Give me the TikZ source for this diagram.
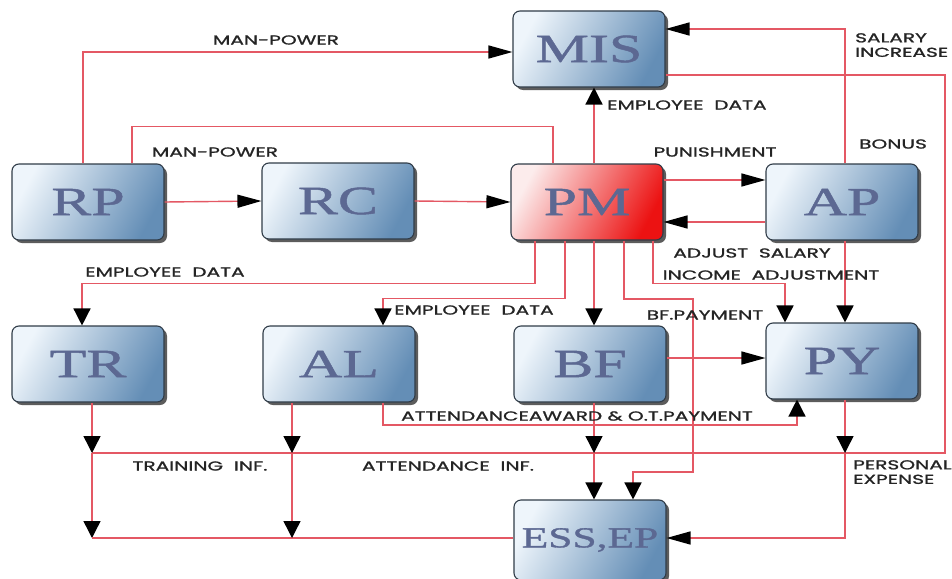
\documentclass[tikz,border=0pt]{standalone}
\usepackage{fontspec}
\usetikzlibrary{arrows.meta,shadows}
\newfontfamily\lblfont[FakeStretch=1.55,FakeBold=1.2]{Poppins}
\newfontfamily\boxfont[FakeStretch=1.5,FakeBold=1.2]{Liberation Serif}

\definecolor{flowred}{RGB}{228,88,100}
\definecolor{boxlight}{RGB}{238,245,251}
\definecolor{boxdark}{RGB}{100,142,182}
\definecolor{boxedge}{RGB}{48,60,72}
\definecolor{pmlight}{RGB}{252,236,236}
\definecolor{pmdark}{RGB}{236,18,18}
\definecolor{glyph}{RGB}{92,104,146}
\definecolor{lbltext}{RGB}{36,36,36}

\tikzset{
  box/.style={draw=boxedge, line width=1.1pt, rounded corners=7pt,
    minimum width=152pt, minimum height=76pt, inner sep=0pt,
    left color=boxlight, right color=boxdark, shading angle=62,
    drop shadow={shadow xshift=3pt, shadow yshift=-3pt, fill=black!75, opacity=0.85},
    text=glyph, font=\boxfont\fontsize{40}{40}\selectfont},
  pmbox/.style={box, left color=pmlight, right color=pmdark, shading angle=62},
  flow/.style={draw=flowred, line width=1.4pt},
  htip/.style={-{Triangle[length=24pt,width=13pt,color=black]}},
  vtip/.style={-{Triangle[length=17pt,width=17pt,color=black]}},
  lbl/.style={font=\lblfont\fontsize{13}{14.5}\selectfont, text=lbltext, inner sep=0pt, align=left}
}

\begin{document}
\begin{tikzpicture}[x=1pt,y=1pt]
\fill[white] (0,0) rectangle (952,-578);
\useasboundingbox (0,0) rectangle (952,-578);

% junction points on the information bus and the lower collector
\coordinate (busR) at (945,-453);
\coordinate (trA) at (92,-453);
\coordinate (trB) at (92,-538);
\coordinate (alA) at (292,-453);
\coordinate (alB) at (292,-538);
\coordinate (bfA) at (594,-453);
\coordinate (pyA) at (845,-453);
\coordinate (pyB) at (845,-538);
\coordinate (attC) at (797,-425);
\coordinate (bfp1) at (693,-299);
\coordinate (bfp2) at (693,-472);

% boxes
\node[box] (MIS) at (589,-49) {MIS};
\node[box] (RP) at (88,-202) {RP};
\node[box] (RC) at (338,-201) {RC};
\node[pmbox] (PM) at (587,-202) {PM};
\node[box] (AP) at (842,-202) {AP};
\node[box] (TR) at (88,-364) {TR};
\node[box] (AL) at (339,-364) {AL};
\node[box] (BF) at (590,-364) {BF};
\node[box] (PY) at (842,-361) {PY};
\node[box, minimum height=80pt, font=\boxfont\fontsize{29}{29}\selectfont] (ESS) at (590,-540) {ESS,EP};

% recruitment planning
\draw[flow,htip] ([xshift=-5pt]RP.north) |- ([yshift=-3pt]MIS.west);
\draw[flow] ([xshift=44pt]RP.north) -- ++(0,37) -| ([xshift=-34pt]PM.north);
\draw[flow,htip] (RP.east) -- (RC.west);
\draw[flow,htip] (RC.east) -- (PM.west);

% personnel management, appraisal and MIS
\draw[flow,vtip] ([xshift=7pt]PM.north) -- ([xshift=7pt]PM.north |- MIS.south);
\draw[flow,htip] ([yshift=22pt]PM.east) -- ([yshift=22pt]PM.east -| AP.west);
\draw[flow,htip] ([yshift=-20pt]AP.west) -- ([yshift=-20pt]AP.west -| PM.east);
\draw[flow,htip] ([xshift=3pt]AP.north) |- ([yshift=20pt]MIS.east);
\draw[flow] ([yshift=-26pt]MIS.east) -| (busR) -- (trA);

% from personnel management downwards
\draw[flow,vtip] ([xshift=-52pt]PM.south) -- ++(0,-43) -| ([xshift=-6pt]TR.north);
\draw[flow,vtip] ([xshift=-22pt]PM.south) -- ++(0,-58) -| ([xshift=44pt]AL.north);
\draw[flow,vtip] ([xshift=7pt]PM.south) -- ([xshift=4pt]BF.north);
\draw[flow,vtip] ([xshift=37pt]PM.south) |- (bfp1) -- (bfp2) -| ([xshift=43pt]ESS.north);
\draw[flow,vtip] ([xshift=66pt]PM.south) -- ++(0,-43) -| ([xshift=-57pt]PY.north);
\draw[flow,vtip] ([xshift=3pt]AP.south) -- ([xshift=3pt]PY.north);

% training
\draw[flow,vtip] ([xshift=4pt]TR.south) -- (trA);
\draw[flow,vtip] (trA) -- (trB);
\draw[flow] (trB) -- (trB -| ESS.west);
% attendance
\draw[flow,vtip] ([xshift=-47pt]AL.south) -- (alA);
\draw[flow,vtip] (alA) -- (alB);
\draw[flow,vtip] ([xshift=44pt]AL.south) |- (attC) -- (attC |- PY.south);
% benefits
\draw[flow,htip] ([yshift=6pt]BF.east) -- ([yshift=6pt]BF.east -| PY.west);
\draw[flow,vtip] ([xshift=4pt]BF.south) -- (bfA);
\draw[flow,vtip] (bfA) -- (bfA |- ESS.north);
% payroll
\draw[flow,vtip] ([xshift=3pt]PY.south) -- (pyA);
\draw[flow,htip] (pyA) -- (pyB) -- (pyB -| ESS.east);

% labels
\node[lbl] (l1) at (276,-40) {MAN-POWER};
\node[lbl] (l2) at (215,-152) {MAN-POWER};
\node[lbl, anchor=west] (l3) at (607,-105) {EMPLOYEE\ \ DATA};
\node[lbl] (l4) at (715,-152) {PUNISHMENT};
\node[lbl] (l5) at (893,-144) {BONUS};
\node[lbl, anchor=north west] (l6) at (855,-33) {SALARY\\INCREASE};
\node[lbl] (l7) at (752,-253) {ADJUST\ \ SALARY};
\node[lbl] (l8) at (771,-275) {INCOME\ \ ADJUSTMENT};
\node[lbl] (l9) at (165,-272) {EMPLOYEE\ \ DATA};
\node[lbl] (l10) at (474,-310) {EMPLOYEE\ \ DATA};
\node[lbl] (l11) at (705,-315) {BF.PAYMENT};
\node[lbl] (l12) at (577,-416) {ATTENDANCEAWARD \& O.T.PAYMENT};
\node[lbl] (l13) at (200,-466) {TRAINING\ \ INF.};
\node[lbl] (l14) at (448,-466) {ATTENDANCE\ \ INF.};
\node[lbl, anchor=north west] (l15) at (853,-460) {PERSONAL\\EXPENSE};
\end{tikzpicture}
\end{document}
